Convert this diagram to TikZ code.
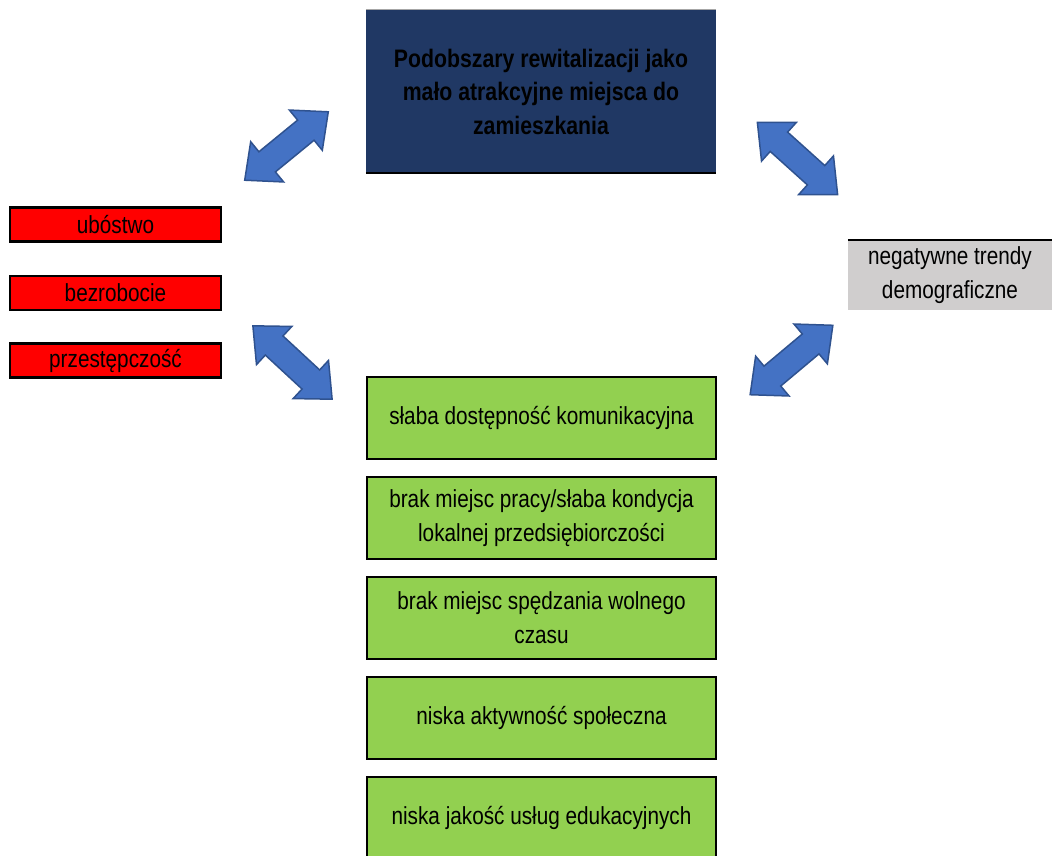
\documentclass[tikz,border=0pt]{standalone}
\usepackage{fontspec}
\setmainfont{Liberation Sans}[FakeStretch=0.84]
\definecolor{navy}{HTML}{203864}
\definecolor{grn}{HTML}{92D050}
\definecolor{gry}{HTML}{D0CECE}
\definecolor{arrfill}{HTML}{4472C4}
\definecolor{arrline}{HTML}{2F528F}
\begin{document}
\begin{tikzpicture}[x=1pt,y=-1pt,
  txt/.style={font=\fontsize{24.7}{34}\selectfont, align=center, inner sep=0pt},
  redbox/.style={txt, rectangle, fill=red, draw=black, line width=2.2pt, minimum width=211pt, minimum height=34pt},
  greenbox/.style={txt, rectangle, fill=grn, draw=black, line width=2pt, minimum width=349pt, minimum height=82pt},
  blockarr/.style={fill=arrfill, draw=arrline, line width=1.5pt, line join=miter}
]
\useasboundingbox (0,0) rectangle (1052,855);

% top box
\node[txt, rectangle, fill=navy, minimum width=350pt, minimum height=163pt, font=\fontsize{25.3}{33.5}\selectfont\bfseries] (top) at (541,91.5)
  {Podobszary rewitalizacji jako\\mało atrakcyjne miejsca do\\zamieszkania};
\draw[black, line width=2.2pt] (top.south west) -- (top.south east);
\draw[gray!70, line width=0.8pt] (top.north west) -- (top.north east);

% red boxes
\node[redbox] (r1) at (115.5,224.5) {ubóstwo};
\node[redbox] (r2) at (115.5,293) {bezrobocie};
\node[redbox] (r3) at (115.5,360.5) {przestępczość};

% gray box
\node[txt, rectangle, fill=gry, minimum width=204pt, minimum height=70pt] (g) at (950,275)
  {negatywne trendy\\demograficzne};
\draw[black, line width=2.2pt] (g.north west) -- (g.north east);

% green boxes
\node[greenbox] (b1) at (541.5,418) {słaba dostępność komunikacyjna};
\node[greenbox] (b2) at (541.5,518) {brak miejsc pracy/słaba kondycja\\lokalnej przedsiębiorczości};
\node[greenbox] (b3) at (541.5,618) {brak miejsc spędzania wolnego\\czasu};
\node[greenbox] (b4) at (541.5,718) {niska aktywność społeczna};
\node[greenbox] (b5) at (541.5,818) {niska jakość usług edukacyjnych};

% block double arrows
\def\dbl{(-54,0) -- (-25,26) -- (-25,13) -- (25,13) -- (25,26) -- (54,0) -- (25,-26) -- (25,-13) -- (-25,-13) -- (-25,-26) -- cycle}
\draw[blockarr, shift={(286.5,146)}, rotate=39.3] \dbl;
\draw[blockarr, shift={(797.5,158.5)}, rotate=-42] \dbl;
\draw[blockarr, shift={(292.5,362.5)}, rotate=-42.8] \dbl;
\draw[blockarr, shift={(791.5,360)}, rotate=40] \dbl;
\end{tikzpicture}
\end{document}
